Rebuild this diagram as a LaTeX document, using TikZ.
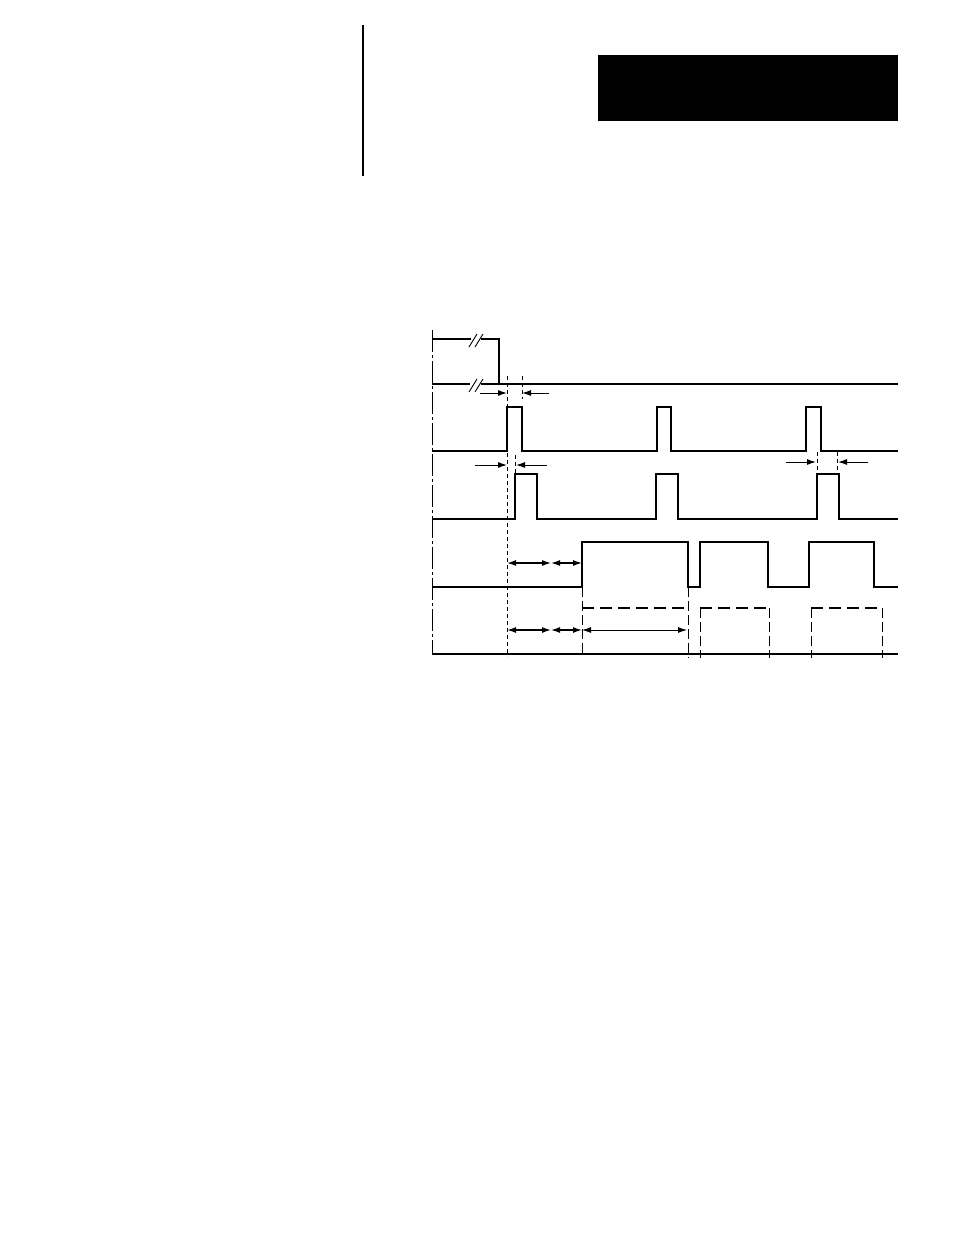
\documentclass[tikz,border=0pt]{standalone}
\usetikzlibrary{arrows.meta}
\begin{document}
\begin{tikzpicture}[x=1pt,y=-1pt,
  sig/.style={line width=1.5pt, line join=miter, line cap=butt},
  thinline/.style={line width=0.9pt},
  vdash/.style={line width=0.9pt, dash pattern=on 4pt off 3pt},
  hdash/.style={line width=1.5pt, dash pattern=on 12pt off 6pt},
  vdashed/.style={line width=0.9pt, dash pattern=on 10pt off 4pt},
  axisline/.style={line width=0.9pt, dash pattern=on 22pt off 3pt on 3pt off 3pt},
  dimarrow/.style={line width=1pt, -{Latex[length=9pt,width=6pt]}},
  dbl/.style={line width=1.3pt, {Latex[length=9pt,width=6pt]}-{Latex[length=9pt,width=6pt]}},
  dblthin/.style={line width=0.9pt, {Latex[length=9pt,width=6pt]}-{Latex[length=9pt,width=6pt]}}]
\useasboundingbox (0,0) rectangle (954,1235);
\fill[white] (0,0) rectangle (954,1235);
% header
\draw[line width=2pt] (363,25) -- (363,176);
\fill[black] (598,55) rectangle (898,121);
% left axis
\draw[axisline] (432,330) -- (432,655);
% top signal with break
\draw[sig] (432,339) -- (471,339);
\draw[sig] (481,339) -- (499,339) -- (499,384);
\draw[thinline] (469,347) -- (477,334);
\draw[thinline] (475,347) -- (483,334);
% second line with break
\draw[sig] (432,384) -- (470,384);
\draw[sig] (481,384) -- (898,384);
\draw[thinline] (469,392) -- (477,379);
\draw[thinline] (475,392) -- (483,379);
% row 3
\draw[sig] (432,451) -- (507,451) -- (507,407) -- (522,407) -- (522,451) -- (657,451) -- (657,407) -- (671,407) -- (671,451) -- (806,451) -- (806,407) -- (821,407) -- (821,451) -- (898,451);
% row 4
\draw[sig] (432,519) -- (515,519) -- (515,474) -- (537,474) -- (537,519) -- (656,519) -- (656,474) -- (678,474) -- (678,519) -- (817,519) -- (817,474) -- (839,474) -- (839,519) -- (898,519);
% row 5
\draw[sig] (432,587) -- (582,587) -- (582,542) -- (688,542) -- (688,587) -- (700,587) -- (700,542) -- (768,542) -- (768,587) -- (809,587) -- (809,542) -- (874,542) -- (874,587) -- (898,587);
% row 6
\draw[sig] (432,654) -- (898,654);
\draw[hdash] (582,608) -- (688,608);
\draw[hdash] (700,608) -- (769,608);
\draw[hdash] (811,608) -- (882,608);
\draw[vdashed] (582,587) -- (582,654);
\draw[vdashed] (688,587) -- (688,658);
\draw[vdashed] (700,608) -- (700,658);
\draw[vdashed] (769,608) -- (769,658);
\draw[vdashed] (811,608) -- (811,658);
\draw[vdashed] (882,608) -- (882,658);
% dashed guides
\draw[vdash] (507,376) -- (507,656);
\draw[vdash] (522,376) -- (522,399);
\draw[vdash] (515,455) -- (515,473);
\draw[vdash] (817,452) -- (817,474);
\draw[vdash] (837,452) -- (837,474);
% arrows
\coordinate (a1s) at (480,393); \coordinate (a1e) at (507,393);
\coordinate (a2s) at (549,393); \coordinate (a2e) at (522,393);
\coordinate (b1s) at (475,465); \coordinate (b1e) at (507,465);
\coordinate (b2s) at (547,465); \coordinate (b2e) at (516,465);
\coordinate (c1s) at (786,462); \coordinate (c1e) at (816,462);
\coordinate (c2s) at (868,462); \coordinate (c2e) at (838,462);
\draw[dimarrow] (a1s) -- (a1e);
\draw[dimarrow] (a2s) -- (a2e);
\draw[dimarrow] (b1s) -- (b1e);
\draw[dimarrow] (b2s) -- (b2e);
\draw[dimarrow] (c1s) -- (c1e);
\draw[dimarrow] (c2s) -- (c2e);
\coordinate (r5a) at (507,563); \coordinate (r5b) at (551,563); \coordinate (r5c) at (582,563);
\draw[dbl] (r5a) -- (r5b);
\draw[dbl] (r5b) -- (r5c);
\coordinate (r6a) at (507,630); \coordinate (r6b) at (551,630); \coordinate (r6c) at (582,630); \coordinate (r6d) at (687,630);
\draw[dbl] (r6a) -- (r6b);
\draw[dbl] (r6b) -- (r6c);
\draw[dblthin] (r6c) -- (r6d);
\end{tikzpicture}
\end{document}
